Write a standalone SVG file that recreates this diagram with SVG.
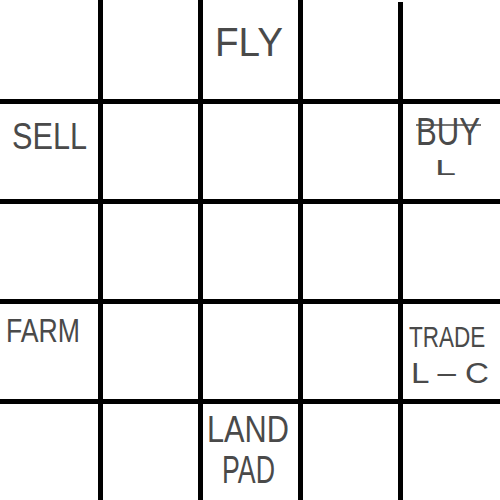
<svg xmlns="http://www.w3.org/2000/svg" width="500" height="500" viewBox="0 0 500 500">
<style>
.grid line{stroke:#000;stroke-width:5;stroke-linecap:butt}
.lbl{font-family:"Liberation Sans","DejaVu Sans",sans-serif;fill:#4a4a4a;font-weight:normal}
</style>
<rect width="500" height="500" fill="#fff"/>
<g id="grid" class="grid">
<line x1="100.5" y1="0" x2="100.5" y2="500"/>
<line x1="200.5" y1="0" x2="200.5" y2="500"/>
<line x1="300.5" y1="0" x2="300.5" y2="500"/>
<line x1="400.5" y1="2" x2="400.5" y2="500"/>
<line x1="0" y1="101.5" x2="500" y2="101.5"/>
<line x1="0" y1="201.5" x2="500" y2="201.5"/>
<line x1="0" y1="301.5" x2="500" y2="301.5"/>
<line x1="0" y1="401.5" x2="500" y2="401.5"/>
</g>
<g id="fly"><text class="lbl" x="215" y="56" font-size="40" textLength="68" lengthAdjust="spacingAndGlyphs">FLY</text></g>
<g id="sell"><text class="lbl" x="12" y="149" font-size="36" textLength="75" lengthAdjust="spacingAndGlyphs">SELL</text></g>
<g id="buy">
<text class="lbl" x="416" y="145" font-size="38" textLength="64" lengthAdjust="spacingAndGlyphs">BUY</text>
<line x1="416" y1="125" x2="481" y2="125" stroke="#4a4a4a" stroke-width="1.5"/>
<text class="lbl" x="435" y="175" font-size="22" textLength="21" lengthAdjust="spacingAndGlyphs">L</text>
</g>
<g id="farm"><text class="lbl" x="6" y="342" font-size="33" textLength="74" lengthAdjust="spacingAndGlyphs">FARM</text></g>
<g id="trade">
<text class="lbl" transform="translate(409,347) scale(0.75,1)" x="0" y="0" font-size="30">TRADE</text>
<text class="lbl" x="411" y="383" font-size="30" textLength="78" lengthAdjust="spacingAndGlyphs">L – C</text>
</g>
<g id="landpad">
<text class="lbl" x="207" y="442" font-size="36" textLength="82" lengthAdjust="spacingAndGlyphs">LAND</text>
<text class="lbl" x="222" y="483" font-size="38" textLength="53" lengthAdjust="spacingAndGlyphs">PAD</text>
</g>
</svg>
